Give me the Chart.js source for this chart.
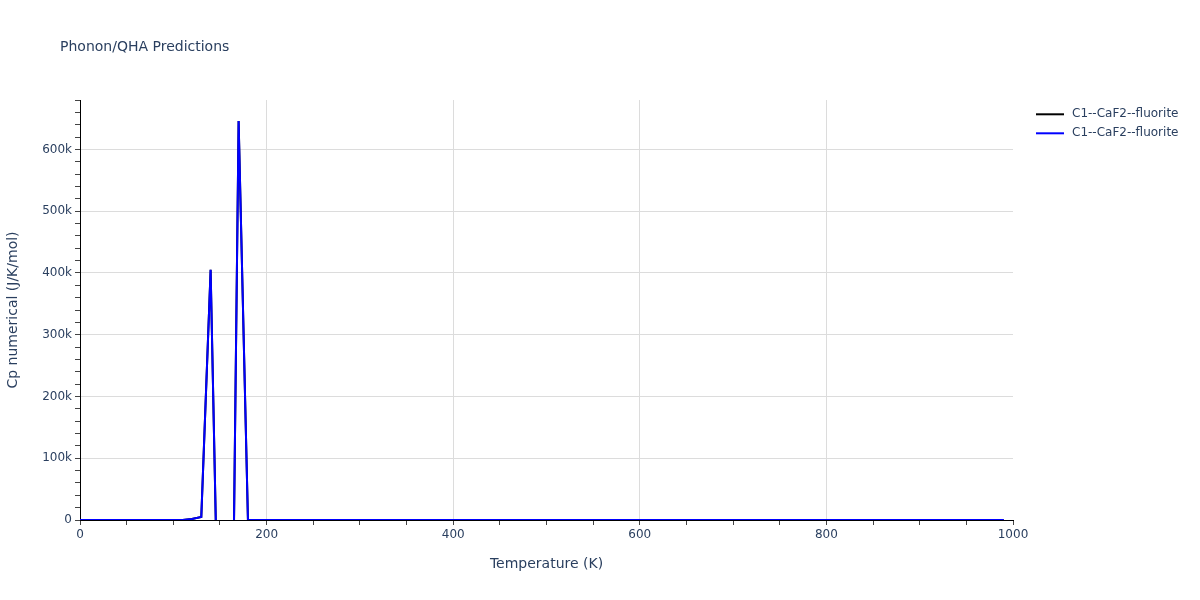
<!DOCTYPE html>
<html>
<head>
<meta charset="utf-8">
<script src="https://cdn.jsdelivr.net/npm/chart.js@4.4.1/dist/chart.umd.min.js"></script>
<style>
  html, body { margin: 0; padding: 0; background: #fff; }
  #wrap { width: 1200px; height: 600px; }
</style>
</head>
<body>
<div id="wrap"><canvas id="chart_canvas" width="1200" height="600"></canvas></div>
<script>
// ============================================================
// Data
// ============================================================
var temperatures = [
  0, 10, 20, 30, 40, 50, 60, 70, 80, 90,
  100, 110, 120, 130, 140, 150, 160, 170, 180, 190,
  200, 210, 220, 230, 240, 250, 260, 270, 280, 290,
  300, 310, 320, 330, 340, 350, 360, 370, 380, 390,
  400, 410, 420, 430, 440, 450, 460, 470, 480, 490,
  500, 510, 520, 530, 540, 550, 560, 570, 580, 590,
  600, 610, 620, 630, 640, 650, 660, 670, 680, 690,
  700, 710, 720, 730, 740, 750, 760, 770, 780, 790,
  800, 810, 820, 830, 840, 850, 860, 870, 880, 890,
  900, 910, 920, 930, 940, 950, 960, 970, 980, 990
];
var cpSeriesA = [
  0, 0.5, 4, 12, 22, 32, 40, 47, 52, 57,
  60, 200, 1800, 5000, 405000, -330000, -670000, 646000, 100, 67.8,
  68.5, 69.1, 69.6, 70.1, 70.5, 70.9, 71.2, 71.5, 71.8, 72.1,
  72.3, 72.6, 72.8, 73.0, 73.2, 73.4, 73.6, 73.8, 74.0, 74.1,
  74.3, 74.5, 74.6, 74.8, 74.9, 75.1, 75.2, 75.4, 75.5, 75.7,
  75.8, 76.0, 76.1, 76.3, 76.4, 76.5, 76.7, 76.8, 77.0, 77.1,
  77.3, 77.4, 77.5, 77.7, 77.8, 78.0, 78.1, 78.3, 78.4, 78.5,
  78.7, 78.8, 79.0, 79.1, 79.3, 79.4, 79.5, 79.7, 79.8, 80.0,
  80.1, 80.3, 80.4, 80.6, 80.7, 80.8, 81.0, 81.1, 81.3, 81.4,
  81.6, 81.7, 81.9, 82.0, 82.2, 82.3, 82.5, 82.6, 82.8, 82.9
];
// second trace has the same name and lies under the blue one
var cpSeriesB = cpSeriesA.slice();
var seriesNames = ["C1--CaF2--fluorite", "C1--CaF2--fluorite"];
var seriesColors = ["#000000", "#0000ff"];
var xMajorTicks = [0, 200, 400, 600, 800, 1000];
var yMajorTicks = [0, 100000, 200000, 300000, 400000, 500000, 600000];

var textColor = "#2a3f5f";
var fontFamily = "'DejaVu Sans', Verdana, sans-serif";

function toPoints(xs, ys) {
  var out = [];
  for (var i = 0; i < xs.length; i++) {
    out.push({ x: xs[i], y: ys[i] });
  }
  return out;
}

// ============================================================
// Title, axis titles and legend, drawn plotly-like
// ============================================================
var decorPlugin = {
  id: "decor",
  afterDraw: function (chart) {
    var ctx = chart.ctx;
    var area = chart.chartArea;
    ctx.save();
    ctx.fillStyle = textColor;
    ctx.textBaseline = "alphabetic";

    ctx.font = "14px " + fontFamily;
    ctx.textAlign = "left";
    ctx.fillText("Phonon/QHA Predictions", 60, 51);

    ctx.textAlign = "center";
    ctx.fillText("Temperature (K)", (area.left + area.right) / 2, 568);

    ctx.save();
    ctx.translate(13.5, (area.top + area.bottom) / 2);
    ctx.rotate(-Math.PI / 2);
    ctx.textBaseline = "middle";
    ctx.fillText("Cp numerical (J/K/mol)", 0, 0);
    ctx.restore();

    ctx.font = "12px " + fontFamily;
    ctx.textAlign = "left";
    ctx.textBaseline = "middle";
    for (var i = 0; i < seriesNames.length; i++) {
      var y = 114.3 + i * 19;
      ctx.strokeStyle = seriesColors[i];
      ctx.lineWidth = 2;
      ctx.beginPath();
      ctx.moveTo(1036, y);
      ctx.lineTo(1064, y);
      ctx.stroke();
      ctx.fillStyle = textColor;
      ctx.fillText(seriesNames[i], 1072, y);
    }
    ctx.restore();
  }
};

var datasets = [];
var allSeries = [cpSeriesA, cpSeriesB];
for (var s = 0; s < allSeries.length; s++) {
  datasets.push({
    label: seriesNames[s],
    data: toPoints(temperatures, allSeries[s]),
    borderColor: seriesColors[s],
    backgroundColor: seriesColors[s],
    borderWidth: 2,
    pointRadius: 0,
    tension: 0,
    fill: false,
    // blue (later) trace is painted on top, like plotly
    order: allSeries.length - 1 - s
  });
}

new Chart(document.getElementById("chart_canvas"), {
  type: "line",
  data: { datasets: datasets },
  options: {
    responsive: false,
    animation: false,
    layout: { padding: { top: 100, right: 187, left: 0, bottom: 0 } },
    plugins: {
      legend: { display: false },
      title: { display: false },
      tooltip: { enabled: false }
    },
    scales: {
      x: {
        type: "linear",
        min: 0,
        max: 1000,
        afterFit: function (scale) { scale.height = 80; },
        afterBuildTicks: function (scale) {
          var t = [];
          for (var v = 0; v <= 1000; v += 50) t.push({ value: v });
          scale.ticks = t;
        },
        ticks: {
          autoSkip: false,
          maxRotation: 0,
          padding: 3,
          color: textColor,
          font: { family: fontFamily, size: 12 },
          callback: function (v) {
            return xMajorTicks.indexOf(v) >= 0 ? String(v) : "";
          }
        },
        grid: {
          drawTicks: true,
          tickLength: 5,
          tickColor: "#444",
          color: function (c) {
            var v = c.tick ? c.tick.value : null;
            return (v > 0 && v < 1000 && xMajorTicks.indexOf(v) > 0) ? "#dcdcdc" : "rgba(0,0,0,0)";
          }
        },
        border: { color: "#000", width: 1 }
      },
      y: {
        type: "linear",
        min: 0,
        max: 680000,
        afterFit: function (scale) { scale.width = 80; },
        afterBuildTicks: function (scale) {
          var t = [];
          for (var v = 0; v <= 680000; v += 20000) t.push({ value: v });
          scale.ticks = t;
        },
        ticks: {
          autoSkip: false,
          padding: 3,
          color: textColor,
          font: { family: fontFamily, size: 12 },
          callback: function (v) {
            if (yMajorTicks.indexOf(v) < 0) return "";
            return v === 0 ? "0" : (v / 1000) + "k";
          }
        },
        grid: {
          drawTicks: true,
          tickLength: 5,
          tickColor: "#444",
          color: function (c) {
            var v = c.tick ? c.tick.value : null;
            return (yMajorTicks.indexOf(v) > 0) ? "#dcdcdc" : "rgba(0,0,0,0)";
          }
        },
        border: { color: "#000", width: 1 }
      }
    }
  },
  plugins: [decorPlugin]
});
</script>
</body>
</html>
